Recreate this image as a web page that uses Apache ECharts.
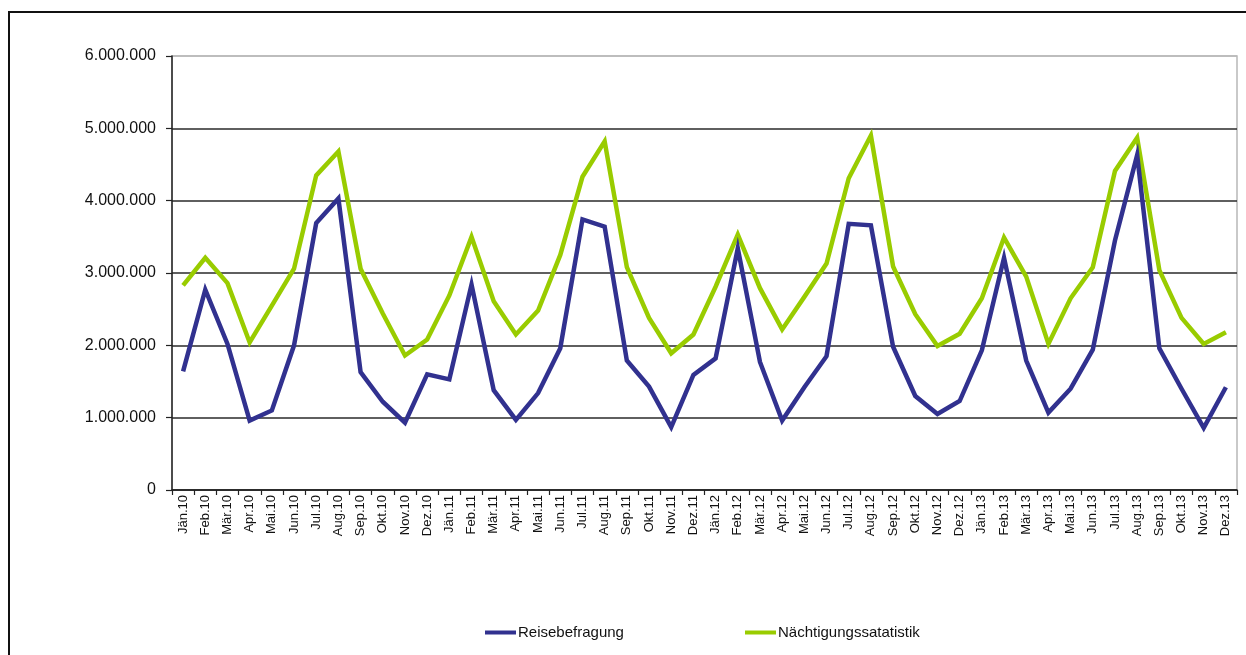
<!DOCTYPE html>
<html>
<head>
<meta charset="utf-8">
<script src="https://cdn.jsdelivr.net/npm/echarts@6/dist/echarts.min.js"></script>
<style>
  html, body { margin: 0; padding: 0; background: #fff; }
  #chart { width: 1246px; height: 655px; }
  #frame {
    position: absolute; left: 8px; top: 11px; right: -4px; bottom: -4px;
    border-top: 2px solid #111; border-left: 2px solid #111;
    pointer-events: none;
  }
</style>
</head>
<body>
<div id="chart"></div>
<div id="frame"></div>
<script>
// Monthly categories, Jänner 2010 to Dezember 2013
const months = ['Jän', 'Feb', 'Mär', 'Apr', 'Mai', 'Jun', 'Jul', 'Aug', 'Sep', 'Okt', 'Nov', 'Dez'];
const years = ['10', '11', '12', '13'];
const categories = [];
years.forEach(y => months.forEach(m => categories.push(m + '.' + y)));

const seriesNames = ['Reisebefragung', 'Nächtigungssatatistik'];

// Reisebefragung (overnight stays per month)
const reisebefragung = [
  1640000, 2770000, 2020000,  960000, 1100000, 2000000, 3690000, 4030000, 1630000, 1220000,  930000, 1600000,
  1530000, 2840000, 1380000,  970000, 1340000, 1960000, 3740000, 3640000, 1790000, 1430000,  870000, 1590000,
  1820000, 3340000, 1770000,  960000, 1420000, 1850000, 3680000, 3660000, 1980000, 1300000, 1050000, 1230000,
  1930000, 3210000, 1790000, 1070000, 1400000, 1940000, 3450000, 4630000, 1960000, 1400000,  860000, 1420000
];

// Nächtigungsstatistik (overnight stays per month)
const naechtigungen = [
  2830000, 3210000, 2860000, 2040000, 2550000, 3060000, 4350000, 4680000, 3060000, 2440000, 1860000, 2080000,
  2690000, 3500000, 2610000, 2150000, 2480000, 3250000, 4330000, 4820000, 3080000, 2380000, 1890000, 2150000,
  2810000, 3530000, 2790000, 2220000, 2670000, 3130000, 4310000, 4900000, 3090000, 2430000, 1990000, 2160000,
  2650000, 3490000, 2950000, 2020000, 2650000, 3080000, 4410000, 4870000, 3040000, 2380000, 2020000, 2180000
];

const yMin = 0, yMax = 6000000, yStep = 1000000;

const BLUE = '#31318F';
const GREEN = '#99CC00';
const FONT = '"Liberation Sans", Arial, sans-serif';

function fmtDE(v) {
  return String(Math.round(v)).replace(/\B(?=(\d{3})+(?!\d))/g, '.');
}

const chart = echarts.init(document.getElementById('chart'), null, { renderer: 'canvas' });

const legendBase = {
  orient: 'horizontal',
  top: 625,
  padding: 0,
  itemWidth: 31,
  itemHeight: 4,
  itemGap: 0,
  icon: 'rect',
  textStyle: { fontFamily: FONT, fontSize: 15, color: '#111', padding: [0, 0, 0, -3] },
  selectedMode: false
};

chart.setOption({
  animation: false,
  backgroundColor: '#fff',
  grid: {
    left: 172, right: 9, top: 56, bottom: 165,
    show: true, borderColor: '#b8b8b8', borderWidth: 1.5, backgroundColor: 'transparent'
  },
  legend: [
    Object.assign({}, legendBase, { left: 485, data: [seriesNames[0]] }),
    Object.assign({}, legendBase, { left: 745, data: [seriesNames[1]] })
  ],
  xAxis: {
    type: 'category',
    data: categories,
    boundaryGap: true,
    axisLine: { show: true, lineStyle: { color: '#222', width: 1.5 } },
    axisTick: { show: true, length: 5, lineStyle: { color: '#222', width: 1.2 } },
    axisLabel: {
      interval: 0, rotate: 90, margin: 5,
      fontFamily: FONT, fontSize: 13, color: '#111'
    },
    splitLine: { show: false }
  },
  yAxis: {
    type: 'value',
    min: yMin, max: yMax, interval: yStep,
    axisLine: { show: true, lineStyle: { color: '#222', width: 1.5 } },
    axisTick: { show: true, length: 6, lineStyle: { color: '#222', width: 1.2 } },
    axisLabel: {
      margin: 16,
      fontFamily: FONT, fontSize: 16, color: '#111',
      formatter: fmtDE
    },
    splitLine: {
      show: true,
      lineStyle: {
        color: ['#222', '#2a2a2a', '#2a2a2a', '#2a2a2a', '#2a2a2a', '#2a2a2a', '#b8b8b8'],
        width: 1.5
      }
    }
  },
  series: [
    {
      name: seriesNames[0],
      type: 'line',
      data: reisebefragung,
      symbol: 'none',
      lineStyle: { color: BLUE, width: 4.5, join: 'miter' },
      itemStyle: { color: BLUE },
      z: 3
    },
    {
      name: seriesNames[1],
      type: 'line',
      data: naechtigungen,
      symbol: 'none',
      lineStyle: { color: GREEN, width: 4.5, join: 'miter' },
      itemStyle: { color: GREEN },
      z: 2
    }
  ]
});
</script>
</body>
</html>
